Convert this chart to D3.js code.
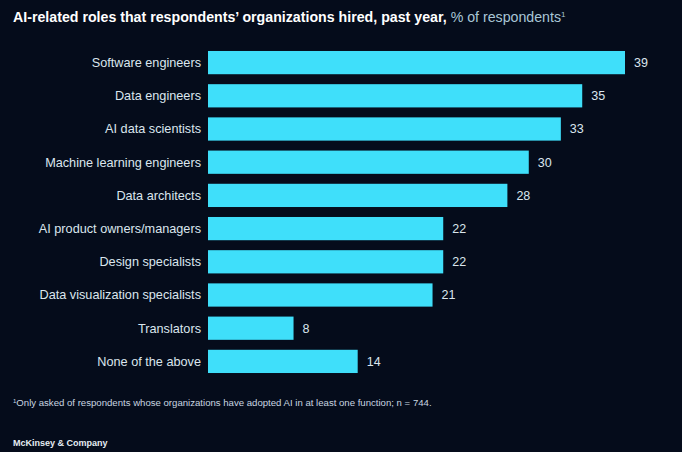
<!DOCTYPE html>
<html>
<head>
<meta charset="utf-8">
<script src="https://cdn.jsdelivr.net/npm/d3@7"></script>
<style>
  html, body { margin: 0; padding: 0; background: #050c1b; }
  svg { display: block; }
</style>
</head>
<body>
<svg id="chart" width="682" height="452"></svg>
<script>
// Roles hired in the past year, share of respondents (%)
const roles = [
  "Software engineers",
  "Data engineers",
  "AI data scientists",
  "Machine learning engineers",
  "Data architects",
  "AI product owners/managers",
  "Design specialists",
  "Data visualization specialists",
  "Translators",
  "None of the above"
];
const shares = [39, 35, 33, 30, 28, 22, 22, 21, 8, 14];

const W = 682, H = 452;
const svg = d3.select("#chart");
const font = "'Liberation Sans', Arial, sans-serif";

svg.append("rect").attr("width", W).attr("height", H).attr("fill", "#050c1b");

const x = d3.scaleLinear().domain([0, 39]).range([208, 625]);
const y = d3.scaleBand().domain(roles).range([46, 378]).paddingInner(0.3).paddingOuter(0.15);

// Title
const title = svg.append("text")
  .attr("x", 13).attr("y", 22)
  .attr("font-family", font).attr("font-size", 14.2)
  .attr("fill", "#ffffff");
title.append("tspan").attr("font-weight", "bold")
  .text("AI-related roles that respondents\u2019 organizations hired, past year,");
title.append("tspan").attr("fill", "#a9c6d6").attr("dx", 4)
  .text("% of respondents");
title.append("tspan").attr("fill", "#a9c6d6").attr("font-size", 8).attr("dy", -5)
  .text("1");

const rows = svg.append("g");

rows.selectAll("rect.bar").data(shares).join("rect")
  .attr("class", "bar")
  .attr("x", x(0))
  .attr("y", (d, i) => y(roles[i]))
  .attr("width", d => x(d) - x(0))
  .attr("height", y.bandwidth())
  .attr("fill", "#3fdffa");

// Category labels, right-aligned against the bars
rows.selectAll("text.cat").data(roles).join("text")
  .attr("class", "cat")
  .attr("x", x(0) - 7)
  .attr("y", d => y(d) + y.bandwidth() / 2)
  .attr("dy", "0.35em")
  .attr("text-anchor", "end")
  .attr("font-family", font).attr("font-size", 12.7)
  .attr("fill", "#dbe6ee")
  .text(d => d);

// Value labels at bar ends
rows.selectAll("text.val").data(shares).join("text")
  .attr("class", "val")
  .attr("x", d => x(d) + 9)
  .attr("y", (d, i) => y(roles[i]) + y.bandwidth() / 2)
  .attr("dy", "0.35em")
  .attr("font-family", font).attr("font-size", 12.5)
  .attr("fill", "#dbe6ee")
  .text(d => d);

// Footnote
const note = svg.append("text")
  .attr("x", 13).attr("y", 406)
  .attr("font-family", font).attr("font-size", 9.6)
  .attr("fill", "#c9d6e0");
note.append("tspan").attr("font-size", 6).attr("dy", -3).text("1");
note.append("tspan").attr("dy", 3)
  .text("Only asked of respondents whose organizations have adopted AI in at least one function; n = 744.");

// Source
svg.append("text")
  .attr("x", 13).attr("y", 446)
  .attr("font-family", font).attr("font-size", 9).attr("font-weight", "bold")
  .attr("fill", "#e6edf3")
  .text("McKinsey & Company");
</script>
</body>
</html>
